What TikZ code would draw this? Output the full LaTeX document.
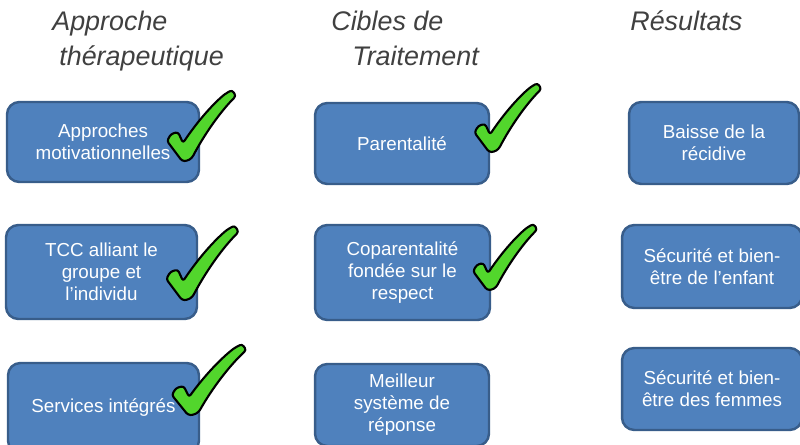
\documentclass[tikz,border=0pt]{standalone}
\usepackage{fontspec}
\setmainfont{Liberation Sans}
\definecolor{boxblue}{RGB}{79,129,189}
\definecolor{boxline}{RGB}{56,93,138}
\definecolor{tickgreen}{RGB}{82,214,44}
\definecolor{headgray}{RGB}{64,64,64}
\tikzset{
	box/.style={draw=boxline, fill=boxblue, line width=1.4pt, rounded corners=7pt,
		text=white, align=center, inner sep=0pt,
		font=\fontsize{10.7}{12.5}\selectfont},
	head/.style={anchor=base west, text=headgray, inner sep=0pt,
		font=\fontsize{15.3}{19.8}\selectfont\itshape},
	tick/.pic={
		\draw[fill=tickgreen, line width=1.2pt, line join=round, rounded corners=1.5pt]
			(0,1) -- (-15,-19) -- (-11,-26) -- (-4,-28) -- (1,-17)
			.. controls (15,-38) and (30,-55) .. (43,-66) -- (50,-70) -- (54,-64)
			.. controls (38,-48) and (22,-25) .. (10,-2) -- (5,1) -- cycle;
	}
}

\begin{document}
\begin{tikzpicture}[x=0.02cm, y=-0.02cm]
		\useasboundingbox (0,0) rectangle (800,445);
		%%  Titres  %%%%%%%%
		\node[head] (h1a) at (52,31) {Approche};
		\node[head] (h1b) at (59,66) {thérapeutique};
		\node[head] (h2a) at (331,31) {Cibles de};
		\node[head] (h2b) at (352,66) {Traitement};
		\node[head] (h3a) at (630,31) {Résultats};
		%%  Approche  %%%%%%%%
		\node[box, minimum width=3.84cm, minimum height=1.6cm] (motiv) at (103,142) {Approches\\motivationnelles};
		\node[box, minimum width=3.82cm, minimum height=1.88cm] (tcc) at (101.5,272) {TCC alliant le\\groupe et\\l’individu};
		\node[box, minimum width=3.82cm, minimum height=1.8cm] (serv) at (103.5,408) {Services intégrés};
		%%  Cibles  %%%%%%%%
		\node[box, minimum width=3.48cm, minimum height=1.62cm] (parent) at (402,143.5) {Parentalité};
		\node[box, minimum width=3.5cm, minimum height=1.9cm] (copar) at (402.5,272.5) {Coparentalité\\fondée sur le\\respect};
		\node[box, minimum width=3.48cm, minimum height=1.64cm] (repon) at (402,405) {Meilleur\\système de\\réponse};
		%%  Resultats  %%%%%%%%
		\node[box, minimum width=3.4cm, minimum height=1.64cm] (recid) at (714,143) {Baisse de la\\récidive};
		\node[box, minimum width=3.6cm, minimum height=1.66cm] (enfant) at (712,266.5) {Sécurité et bien-\\être de l’enfant};
		\node[box, minimum width=3.6cm, minimum height=1.64cm] (femmes) at (712,389) {Sécurité et bien-\\être des femmes};
		%%  Coches  %%%%%%%%
		\pic at (182,160) {tick};
		\pic[scale=1.05] at (182,299) {tick};
		\pic[xscale=1.08] at (188,414) {tick};
		\pic[scale=0.97] at (489,151) {tick};
		\pic[scale=0.93] at (487,289) {tick};
		%%%%%%%%%%%%%%%
	\end{tikzpicture}
\end{document}
